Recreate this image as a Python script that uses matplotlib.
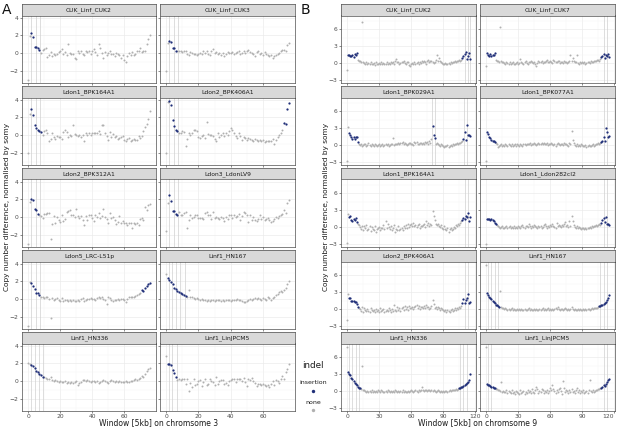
import numpy as np
import matplotlib
matplotlib.use("Agg")
import matplotlib.pyplot as plt

W, H = 617, 430

# ---------------- Panel A : chromosome 3 ----------------
A_names = ["CUK_Linf_CUK2", "CUK_Linf_CUK3", "Ldon1_BPK164A1", "Ldon2_BPK406A1",
           "Ldon2_BPK312A1", "Ldon3_LdonLV9", "Ldon5_LRC-L51p", "Linf1_HN167",
           "Linf1_HN336", "Linf1_LinJPCM5"]

A_CUK2 = [-3.0, 1.9, 2.3, 1.8, 0.75, 0.7, 0.55, 0.4, 0.0, 0.35,
          0.5, 0.6, -0.4, -0.2, 0.15, -0.3, -0.1, -0.15, -0.1, 0.1,
          0.3, 0.5, -0.1, 0.1, -0.2, 1.0, 0.0, -0.1, -0.05, -0.5,
          -0.7, 0.2, 0.0, 0.3, -0.1, -0.2, 0.3, 0.1, 0.2, -0.1,
          0.3, 0.5, 0.1, -0.2, 1.0, 0.6, 0.0, -0.5, 0.1, -0.2,
          0.0, 0.2, -0.1, -0.1, -0.3, 0.0, -0.1, -0.2, -0.5, -0.2,
          -0.8, -1.0, -0.3, 0.0, -0.2, 0.1, -0.2, -0.1, 0.2, 0.3,
          0.6, 0.1, 0.3, 0.2, 1.0, 1.6, 2.0]
A_CUK3 = [-2.0, 1.1, 1.4, 1.25, 0.6, 0.6, 0.3, 0.2, 0.3, 0.2,
          0.1, 0.2, 0.3, -0.1, -0.2, 0.1, 0.0, -0.1, -0.1, -0.2,
          -0.1, 0.0, -0.1, 0.2, 0.0, 0.3, -0.1, -0.2, 0.2, 0.5,
          0.0, 0.1, -0.1, 0.0, -0.2, 0.0, -0.3, -0.1, 0.1, 0.0,
          0.0, 0.1, -0.1, 0.0, 0.1, 0.2, -0.1, 0.0, 0.3, 0.0,
          0.3, 0.4, 0.1, 0.0, -0.1, -0.3, 0.1, 0.2, -0.1, 0.0,
          -0.2, 0.1, -0.1, -0.2, -0.3, -0.2, -0.5, -0.3, -0.2, -0.1,
          0.0, 0.2, 0.4, 0.4, 0.3, 0.9, 1.2]
A_BPK164 = [-2.0, 2.4, 2.9, 2.3, 1.1, 0.85, 0.6, 0.5, 0.35, 0.0,
            0.5, 0.6, 0.3, -0.6, -0.4, 0.3, -0.2, -0.4, -0.1, -0.2,
            -0.2, -0.4, 0.4, 0.6, 0.4, -0.2, 0.0, -0.1, 1.2, 0.1,
            0.0, -0.1, 0.0, -0.2, 0.0, -0.6, 0.2, 0.0, 0.3, 0.0,
            0.2, 0.3, 0.3, 0.2, 0.5, 0.1, 1.2, 1.1, 0.3, -0.1,
            -0.5, 0.4, -0.2, 0.1, -0.2, -0.1, -0.4, -0.3, -0.2, -0.1,
            -0.5, -0.6, -0.4, -0.3, -0.6, -0.5, -0.4, -0.5, -0.5, -0.1,
            -0.3, -0.1, 0.5, 0.9, 1.3, 1.8, 2.7]
A_BPK406 = [-2.0, 3.7, 3.9, 3.4, 1.7, 1.0, 0.55, 0.5, 0.3, 0.2,
            0.5, 0.4, -1.2, -0.4, 0.3, 0.0, 0.3, 0.6, 0.6, 0.5,
            -0.2, -0.3, -0.1, 0.0, -0.3, 1.5, 0.1, 0.0, 0.0, -0.1,
            -0.4, -0.7, 0.2, -0.2, 0.0, 0.3, -0.1, 0.2, 0.0, 0.5,
            0.8, 0.6, 0.2, -0.1, -0.3, 0.2, -0.1, -0.5, -0.2, -0.3,
            -0.5, -0.3, -0.4, -0.5, -0.6, -0.4, -0.5, -0.6, -0.5, -0.7,
            -0.5, -0.8, -0.6, -0.7, -0.6, -0.6, -0.4, -1.0, -0.5, -0.2,
            0.0, 0.2, 0.6, 1.4, 1.3, 2.9, 3.6]
A_BPK312 = [-3.0, 1.7, 2.0, 1.9, 0.9, 0.8, 0.4, 0.3, 0.1, -0.1,
            0.4, 0.4, 0.5, 0.5, -2.4, -0.8, 0.1, -0.6, 0.0, -0.3,
            -0.5, 0.2, -0.4, -0.2, 0.6, 0.7, 0.8, 0.2, 0.3, 0.0,
            0.9, 0.1, -0.1, 0.1, -0.3, -0.9, 0.1, -0.3, 0.2, 0.2,
            -0.1, -0.4, 0.3, 0.0, 0.5, -0.1, 0.1, 0.9, 0.0, -0.2,
            -0.6, 0.5, -0.1, 0.0, -0.3, -0.8, -0.5, 0.1, -0.6, -0.4,
            -0.7, -0.7, -0.9, -0.6, -0.7, -1.2, -0.7, -0.8, -0.7, -0.9,
            -0.2, -0.1, -0.3, 1.2, 0.8, 1.4, 1.5]
A_LV9 = [-1.5, 1.6, 2.5, 1.8, 0.75, 0.7, 0.35, 0.3, 0.6, 0.2,
         0.3, 0.5, 0.6, -1.2, -0.3, 0.3, -0.1, 0.0, 0.2, 0.2,
         -0.1, -0.1, -0.1, -0.2, 0.5, 0.6, 0.3, 0.2, -0.2, 0.6,
         -0.1, 0.0, -0.1, -0.2, 0.0, -0.1, -0.4, 0.0, -0.2, 0.2,
         0.3, -0.1, 0.2, 0.0, 0.1, 0.4, -0.3, 0.1, 0.6, 0.5,
         0.3, -0.5, 0.2, -0.3, 0.0, -0.3, -0.4, -0.2, 0.3, -0.2,
         0.0, -0.3, -0.2, -0.1, -0.3, -0.5, -0.4, -0.2, 0.0, -0.1,
         0.1, 0.3, 0.4, 0.8, 0.5, 1.6, 1.9]
A_L51p = [-3.0, 1.9, 1.8, 1.5, 1.2, 0.7, 0.7, 0.5, 0.3, 0.2,
          0.1, 0.2, 0.2, 0.0, -2.1, 0.1, -0.1, 0.0, 0.1, -0.1,
          -0.2, 0.1, -0.2, -0.1, -0.1, -0.2, -0.1, -0.2, -0.1, -0.2,
          -0.2, -0.1, -0.2, 0.0, 0.1, -0.2, -0.1, 0.0, 0.0, 0.1,
          0.0, 0.0, -0.1, 0.1, 0.2, 0.1, 0.3, 0.0, -0.1, -0.5,
          0.2, 0.1, -0.1, -0.2, -0.1, -0.1, 0.0, -0.1, 0.0, 0.0,
          -0.1, -0.3, 0.0, 0.2, 0.2, 0.3, 0.3, 0.4, 0.5, 0.6,
          0.7, 1.0, 0.9, 1.3, 1.5, 1.7, 1.8]
A_HN167 = [2.8, 2.4, 2.2, 1.9, 1.7, 1.3, 1.1, 0.9, 0.8, 0.7,
           0.6, 0.5, 0.4, 0.3, 1.0, 0.2, 0.2, 0.1, 0.0, 0.1,
           0.0, -0.1, 0.0, -0.1, -0.1, -0.2, -0.1, -0.2, -0.1, -0.1,
           -0.2, -0.1, -0.1, -0.1, -0.2, -0.1, -0.2, -0.1, -0.1, -0.1,
           -0.2, -0.1, -0.1, -0.1, 0.0, -0.1, -0.1, -0.2, -0.3, -0.3,
           -0.2, -0.1, 0.0, -0.1, 0.0, 0.1, 0.0, 0.1, 0.0, -0.1,
           0.1, 0.0, -0.1, 0.2, 0.1, -0.1, 0.1, 0.3, 0.5, 0.6,
           0.8, 0.9, 0.8, 1.0, 1.3, 1.7, 2.1]
A_HN336 = [2.1, 1.9, 1.8, 1.7, 1.5, 1.2, 1.0, 0.8, 0.7, 0.5,
           0.5, 0.4, 0.3, 0.2, 0.5, 0.1, 0.0, 0.1, 0.0, -0.1,
           0.0, -0.1, -0.1, 0.0, -0.2, -0.1, -0.2, -0.1, -0.2, -0.1,
           0.0, -0.4, -0.2, -0.1, 0.1, 0.1, 0.0, 0.1, 0.0, -0.1,
           0.0, 0.0, -0.1, 0.0, -0.2, -0.1, 0.0, 0.1, 0.0, -0.1,
           -0.2, 0.0, 0.1, 0.0, -0.1, 0.0, -0.1, 0.0, -0.1, -0.1,
           -0.1, 0.0, -0.1, -0.1, 0.0, 0.0, 0.1, 0.2, 0.1, 0.3,
           0.4, 0.6, 0.5, 0.8, 1.1, 1.4, 1.5]
A_JPCM5 = [2.8, 1.9, 1.9, 1.8, 1.3, 0.9, 0.5, 0.1, 0.2, 0.1,
           0.3, 0.2, -0.3, 0.3, -1.1, -0.2, -0.6, 0.2, -0.4, -0.3,
           0.0, 0.1, -0.5, -0.1, 0.2, -0.4, -0.3, 0.3, 0.0, -0.1,
           -0.4, 0.5, -0.3, 0.0, 0.1, 0.1, -0.3, -0.2, -0.4, 0.0,
           0.1, 0.2, 0.3, -0.1, 0.3, 0.3, 0.2, 0.0, 0.4, -0.1,
           -0.5, 0.3, 0.1, 0.4, 0.0, -0.2, -0.5, -0.3, -0.3, -0.4,
           -0.3, -0.4, -0.5, -0.4, -0.6, -0.3, 0.0, -0.4, 0.1, 0.0,
           -0.2, 0.3, 0.6, 0.3, 1.0, 1.4, 1.9]

A_values = [A_CUK2, A_CUK3, A_BPK164, A_BPK406, A_BPK312, A_LV9, A_L51p, A_HN167, A_HN336, A_JPCM5]
# indices of windows flagged as insertion
A_ins = [list(range(2, 8)), list(range(2, 7)), list(range(2, 9)), list(range(2, 8)) + list(range(73, 77)),
         list(range(2, 7)), list(range(2, 8)), list(range(2, 8)) + list(range(71, 77)), list(range(1, 13)),
         list(range(2, 10)), list(range(1, 7))]
A_vlines = [[2, 5, 7.5], [2, 5, 7.5], [2, 5, 7.5], [2, 5, 7.5], [2, 5, 7.5], [2, 5, 7.5],
            [2, 5, 7.5], [1.5, 3.5, 6, 8.5, 11.5], [2, 4.5, 7, 9.5], [1.5, 3.5, 6.5]]
A_xticks = [0, 20, 40, 60]
A_yticks = [-2, 0, 2, 4]

# ---------------- Panel B : chromosome 9 ----------------
B_names = ["CUK_Linf_CUK2", "CUK_Linf_CUK7", "Ldon1_BPK029A1", "Ldon1_BPK077A1",
           "Ldon1_BPK164A1", "Ldon1_Ldon282cl2", "Ldon2_BPK406A1", "Linf1_HN167",
           "Linf1_HN336", "Linf1_LinJPCM5"]

B_CUK2 = [-1.3, 1.4, 1.4, 1.2, 1.3, 1.5, 1.1, 1.6, 1.4, 1.7,
          0.6, 0.4, 0.3, 0.2, 7.3, 0.1, 0.0, -0.1, 0.1, -0.2,
          0.0, -0.1, 0.2, -0.2, -0.1, 0.0, -0.3, 0.1, -0.1, -0.2,
          0.0, -0.1, 0.1, -0.2, 0.0, -0.1, -0.2, 0.1, -0.1, 0.0,
          -0.2, 0.1, 0.0, 0.2, -0.1, 0.3, 0.7, 0.2, 0.1, -0.1,
          0.0, 0.2, 0.1, 0.3, 0.0, -0.1, 0.1, 0.2, -0.3, -0.5,
          -0.2, 0.0, -0.1, 0.1, -0.2, 0.0, 0.1, -0.1, 0.2, 0.0,
          0.3, 0.1, 0.4, 0.2, -0.2, 0.3, 0.5, 0.1, 0.3, 0.4,
          0.1, 0.0, 0.2, 0.6, 1.5, 0.4, 0.9, 0.3, 0.1, 0.0,
          -0.1, -0.2, 0.0, -0.1, -0.2, 0.0, -0.1, 0.1, 0.0, 0.2,
          0.1, 0.3, 0.2, 0.4, 0.3, 0.5, 0.4, 0.6, 0.9, 1.3,
          1.6, 1.9, 0.7, 1.2, 1.8, 0.8]
B_CUK7 = [-0.5, 1.7, 1.5, 1.3, 1.6, 1.2, 1.5, 1.4, 1.8, 0.5,
          0.4, 0.3, 0.2, 6.4, 0.3, 0.1, 0.2, 0.0, -0.1, 0.1,
          0.0, -0.2, 0.1, -0.1, 0.0, 0.2, -0.1, -0.2, 0.0, 0.1,
          -0.1, 0.0, 0.7, 0.2, 0.0, -0.1, 0.1, 0.3, 0.0, -0.2,
          0.1, 0.2, 0.4, 0.1, 0.0, 0.2, -0.1, -0.5, 0.0, 0.3,
          0.1, 0.2, 0.3, 0.0, 0.2, 0.1, 0.4, 0.6, 0.2, 0.1,
          0.3, 0.2, 0.0, 0.5, 0.3, 0.1, 0.2, 0.4, 0.3, 0.0,
          0.2, 0.1, 0.0, 0.3, 0.2, 0.1, 0.0, 0.2, 0.3, 1.5,
          0.4, 0.9, 0.3, 0.2, 0.1, 1.5, 0.0, -0.1, 0.1, 0.0,
          0.2, 0.0, 0.1, -0.1, 0.0, 0.1, 0.2, 0.0, 0.3, 0.2,
          0.1, 0.3, 0.4, 0.3, 0.5, 0.6, 0.4, 0.7, 1.1, 1.3,
          1.6, 0.9, 1.5, 1.2, 1.6, 1.0]
B_BPK029 = [-2.8, 3.2, 2.1, 1.8, 1.4, 1.0, 1.5, 1.0, 1.5, 1.4,
            0.5, 0.2, 0.0, 0.1, -0.1, 0.0, 0.2, 0.1, -0.1, 0.0,
            0.3, 0.0, -0.1, 0.1, 0.0, -0.2, 0.1, 0.0, -0.1, 0.0,
            0.1, -0.1, 0.0, 0.1, -0.1, 0.0, 0.2, 0.0, 0.1, -0.1,
            0.0, 0.1, 0.2, 1.2, 0.0, 0.1, 0.2, 0.1, 0.3, 0.2,
            0.4, 0.3, 0.5, 0.2, 0.3, 0.1, 0.0, 0.2, 0.4, 0.3,
            0.1, 0.2, 0.0, 0.6, 0.3, 0.5, 0.2, 0.1, 0.3, 0.4,
            0.2, 0.4, 0.1, 0.6, 0.3, 0.5, 0.2, 0.8, 0.4, 1.0,
            3.4, 1.8, 1.3, 0.2, 0.3, 0.1, 0.0, -0.1, 0.2, 0.0,
            -0.2, -0.3, -0.1, -0.2, 0.0, -0.3, -0.1, 0.0, -0.2, 0.1,
            0.0, 0.2, 0.1, 0.3, 0.2, 0.4, 0.3, 0.6, 0.7, 1.1,
            2.3, 0.9, 3.6, 1.7, 1.8, 1.6]
B_BPK077 = [-2.8, 2.3, 1.9, 1.5, 1.2, 0.9, 0.8, 0.7, 0.5, 0.3,
            0.1, -0.3, -0.1, 0.0, 0.2, -0.1, 0.0, -0.2, 0.1, 0.0,
            -0.1, 0.1, 0.0, -0.2, 0.1, -0.1, 0.0, 0.1, -0.1, 0.2,
            0.0, -0.1, 0.1, 0.0, -0.2, 0.1, 0.2, 0.0, 0.1, 0.2,
            0.1, 0.3, 0.0, 0.2, 0.1, 0.3, 0.2, 0.0, 0.1, 0.3,
            0.2, 0.1, 0.3, 0.2, 0.4, 0.1, 0.2, 0.3, 0.0, 0.2,
            0.1, 0.3, 0.2, 0.0, 0.1, -0.1, 0.2, 0.4, 0.1, 0.0,
            0.2, 0.1, 0.0, 0.3, 0.1, 0.2, 0.0, -0.1, 0.4, 0.1,
            2.5, 0.9, 0.3, 0.0, -0.1, 0.1, -0.2, 0.0, -0.1, 0.1,
            0.0, -0.2, -0.1, 0.0, -0.3, -0.1, 0.0, -0.2, -0.1, 0.0,
            0.1, -0.1, 0.0, 0.2, 0.1, 0.3, 0.2, 0.4, 0.6, 0.7,
            1.5, 0.8, 3.1, 2.3, 1.5, 1.6]
B_BPK164 = [-2.8, 2.4, 1.8, 2.0, 1.3, 1.0, 1.5, 1.2, 1.6, 0.9,
            0.5, 0.3, 0.0, -0.3, 0.2, -0.5, 0.1, -0.2, 0.3, -0.6,
            -0.4, 0.2, -0.7, 0.0, -0.3, -0.6, 0.1, -0.9, -0.4, -0.2,
            0.0, -0.5, -0.2, -0.1, 0.3, -0.4, 1.1, -0.2, 0.5, 0.0,
            -0.3, 0.2, -0.6, -0.2, 0.4, -0.9, -0.3, -0.5, 0.1, -0.6,
            -0.4, -0.2, -0.5, 0.1, -0.1, 0.3, -0.2, 0.6, 0.0, 0.3,
            0.5, 0.2, 0.7, 0.1, 0.4, 0.0, 0.3, 0.5, -0.2, 0.2,
            0.1, 0.4, 0.6, 0.0, 1.0, 0.3, 0.7, 0.2, 0.5, 0.4,
            2.9, 1.9, 1.2, 0.6, 0.3, 0.5, 0.2, 0.0, 0.3, -0.1,
            -0.3, 0.1, -0.4, -0.6, -0.2, -0.8, -0.4, -0.1, -0.5, -0.3,
            0.0, -0.2, 0.3, 0.1, 0.5, 0.4, 0.7, 1.0, 1.3, 1.6,
            1.4, 2.0, 1.7, 2.5, 1.1, 1.8]
B_282cl2 = [-3.0, 1.4, 1.5, 1.5, 1.3, 1.4, 1.2, 1.1, 0.8, 0.5,
            0.3, 0.1, 0.0, -0.1, 0.0, 0.1, -0.1, -0.2, 0.0, 0.1,
            -0.1, 0.0, 0.2, -0.1, 0.0, -0.2, 0.1, -0.1, 0.0, -0.1,
            0.1, 0.0, -0.2, 0.1, 0.3, 0.0, -0.1, 0.2, 0.1, 0.0,
            0.5, 0.1, -0.1, 0.2, 0.0, 0.3, 0.1, 0.0, -0.1, 0.2,
            0.0, 0.1, -0.2, 0.0, 0.3, 0.6, 0.1, -0.1, 0.2, 0.0,
            0.3, 0.1, 0.6, 0.2, 0.0, -0.1, 0.7, 0.2, 0.4, 0.1,
            0.0, 0.3, 0.1, 0.5, 0.9, 0.2, 0.4, 0.0, 1.0, 0.1,
            2.0, 1.0, 0.3, 0.0, -0.1, 0.1, -0.2, 0.0, -0.1, -0.3,
            -0.2, -0.1, -0.3, -0.2, -0.4, -0.2, -0.1, 0.0, -0.2, 0.1,
            0.0, 0.2, 0.1, 0.3, 0.2, 0.4, 0.5, 0.4, 0.7, 1.2,
            1.6, 0.9, 1.7, 0.6, 0.5, 0.3]
B_BPK406 = [-2.0, 2.7, 2.0, 1.9, 1.4, 1.5, 1.4, 1.2, 1.3, 0.9,
            0.4, 0.2, 0.0, -0.3, 0.3, -0.5, 0.1, -0.2, -0.4, 0.0,
            -0.3, -0.6, 0.1, -0.2, -0.4, -0.1, -0.5, 0.0, -0.3, -0.2,
            -0.6, 0.1, -0.4, -0.2, 0.0, -0.5, -0.3, -0.1, -0.4, 0.2,
            -0.2, -0.5, 0.0, -0.3, 0.7, -0.1, -0.4, 0.3, -0.2, 0.1,
            -0.3, 0.2, 0.4, -0.1, 0.6, 0.0, 0.3, -0.2, 0.5, 0.1,
            0.2, 0.4, 0.0, 0.3, 0.6, 0.8, 0.2, 0.5, 0.0, 0.3,
            0.4, 0.1, 0.6, 0.2, 0.7, 0.3, 0.4, 0.0, 0.2, 0.5,
            1.6, 0.9, 0.2, 0.4, 0.0, 0.3, 0.1, -0.2, 0.2, 0.0,
            -0.1, -0.4, -0.2, -0.5, -0.1, -0.3, -0.6, -0.2, 0.0, -0.4,
            -0.1, 0.1, -0.2, 0.2, 0.0, 0.3, 0.2, 0.5, 1.0, 1.7,
            1.1, 1.6, 2.0, 2.6, 1.0, 1.2]
B_HN167 = [7.9, 2.9, 2.5, 2.1, 1.9, 1.7, 1.4, 1.2, 1.0, 0.8,
           0.7, 0.5, 0.4, 3.2, 0.3, 0.2, 0.1, 0.0, 0.1, 0.0,
           -0.1, 0.0, -0.1, 0.0, 0.1, -0.1, 0.0, -0.1, -0.2, 0.0,
           -0.1, 0.0, -0.1, 0.0, -0.2, -0.1, 0.0, -0.1, -0.1, 0.0,
           0.1, -0.1, 0.0, -0.1, -0.2, 0.0, -0.1, 0.0, -0.1, -0.1,
           0.0, -0.1, 0.0, 0.1, -0.1, 0.0, -0.1, 0.0, 0.1, -0.1,
           0.0, -0.1, 0.0, -0.1, 0.0, 0.1, 0.0, 0.3, 0.0, -0.1,
           0.0, 0.0, -0.1, 0.0, 0.1, 0.0, -0.1, 0.0, -0.1, 0.0,
           0.4, 0.0, -0.1, 0.0, -0.1, -0.1, 0.0, -0.1, 0.0, -0.1,
           -0.1, 0.0, -0.1, 0.0, -0.1, 0.0, 0.0, -0.1, 0.0, 0.1,
           0.0, 0.1, 0.2, 0.1, 0.2, 0.3, 0.5, 0.6, 0.7, 0.8,
           0.9, 1.1, 1.3, 1.6, 2.0, 2.5]
B_HN336 = [7.9, 3.4, 3.1, 2.8, 2.4, 2.1, 1.8, 1.5, 1.3, 1.0,
           0.8, 0.6, 0.5, 0.3, 4.5, 0.2, 0.1, 0.0, -0.1, 0.0,
           -0.1, 0.0, -0.1, 0.1, -0.1, 0.0, -0.2, 0.0, -0.1, 0.1,
           0.0, -0.1, 0.1, 0.0, -0.2, -0.1, 0.0, -0.1, 0.1, 0.0,
           -0.1, 0.0, -0.2, 0.0, -0.1, 0.1, 0.0, -0.1, 0.0, -0.2,
           0.0, -0.1, 0.1, -0.1, 0.0, -0.1, -0.2, 0.0, -0.1, 0.0,
           0.1, 0.0, -0.1, 0.0, 0.1, 0.0, -0.1, 0.1, 0.0, 0.2,
           0.8, 0.1, 0.0, 0.2, 0.1, 0.0, 0.1, 0.2, 0.0, 0.1,
           0.0, 0.1, 0.0, -0.1, 0.0, 0.1, 0.0, -0.1, 0.0, -0.1,
           0.0, -0.1, 0.0, 0.0, -0.1, 0.0, 0.1, 0.0, 0.1, 0.2,
           0.1, 0.2, 0.3, 0.2, 0.4, 0.5, 0.6, 0.7, 0.8, 0.9,
           1.0, 1.2, 1.4, 1.6, 1.9, 3.0]
B_JPCM5 = [7.9, 1.2, 1.1, 1.0, 0.9, 0.8, 0.7, 0.6, 0.5, 0.4,
           0.3, 0.2, 0.1, 0.0, 1.6, -0.1, 0.0, -0.2, -0.1, 0.1,
           -0.3, 0.0, -0.2, -0.4, 0.1, -0.3, -0.1, -0.5, 0.0, -0.2,
           -0.4, -0.6, 0.1, -0.3, -0.2, 0.0, -0.5, -0.1, -0.3, 0.2,
           -0.2, 0.0, -0.4, 0.3, -0.1, -0.3, 0.1, 0.8, 0.3, -0.4,
           0.0, -0.2, 0.4, 0.1, -0.3, 0.0, -0.1, 0.2, -0.4, 0.0,
           0.5, 0.1, 1.1, 0.3, 0.0, -0.3, 0.2, -0.1, 0.4, 0.6,
           0.0, -0.6, 1.8, 0.5, -0.2, 0.2, 0.0, -0.3, 0.1, -0.1,
           0.3, -0.2, 0.0, -0.4, 0.2, 0.5, -0.1, 0.1, -0.3, 0.0,
           -0.2, 0.1, -0.4, -0.1, 0.0, -0.3, 0.2, 1.9, 0.0, -0.1,
           0.1, -0.2, 0.0, 0.2, 0.1, 0.3, 0.4, 0.6, 0.5, 0.8,
           1.0, 0.9, 1.3, 1.6, 1.9, 2.2]

B_values = [B_CUK2, B_CUK7, B_BPK029, B_BPK077, B_BPK164, B_282cl2, B_BPK406, B_HN167, B_HN336, B_JPCM5]
B_ins = [list(range(1, 10)) + list(range(108, 116)), list(range(1, 9)) + list(range(108, 116)),
         list(range(2, 11)) + list(range(80, 83)) + list(range(109, 116)),
         list(range(1, 9)) + list(range(108, 116)), list(range(2, 10)) + list(range(108, 116)),
         list(range(1, 10)) + list(range(108, 116)), list(range(2, 11)) + list(range(108, 116)),
         list(range(1, 13)) + list(range(106, 116)), list(range(1, 13)) + list(range(105, 116)),
         list(range(1, 9)) + list(range(108, 116))]
B_vlines = [[110, 113, 115], [110, 113], [79.5, 82.5, 109.5, 112.5], [110, 113], [110, 113],
            [110, 113], [110, 113], [2, 5, 8, 11, 107, 110, 113], [2, 5, 8, 11, 106, 109, 112],
            [2, 5, 110, 113]]
B_xticks = [0, 30, 60, 90, 120]
B_yticks = [-3, 0, 3, 6]

INS_COL = "#1f2e78"
NONE_COL = "#b0b0b0"
GRID = "#ebebeb"
BORDER = "#4d4d4d"

fig = plt.figure(figsize=(W / 100, H / 100), dpi=100)
fig.patch.set_facecolor("white")


def px_axes(x0, ytop, x1, ybot):
    return fig.add_axes([x0 / W, 1 - ybot / H, (x1 - x0) / W, (ybot - ytop) / H])


def draw_block(names, values, ins, vlines, xticks, yticks, col_x, ylabel, xlabel, ylab_x, last_right=False):
    allv = np.concatenate([np.asarray(v) for v in values])
    lo, hi = allv.min(), allv.max()
    pad = 0.05 * (hi - lo)
    ylim = (lo - pad, hi + pad)
    n = max(len(v) for v in values) - 1
    xlim = (-0.05 * n, n * 1.05)
    xt = np.asarray(xticks, float)
    yt = np.asarray(yticks, float)
    xminor = (xt[:-1] + xt[1:]) / 2
    yminor = np.concatenate([[yt[0] - (yt[1] - yt[0]) / 2], (yt[:-1] + yt[1:]) / 2,
                             [yt[-1] + (yt[1] - yt[0]) / 2]])
    for i, (name, vals, ii, vl) in enumerate(zip(names, values, ins, vlines)):
        r, c = divmod(i, 2)
        top = 4 + 82 * r
        x0, x1 = col_x[c]
        sax = px_axes(x0, top, x1, top + 11.5)
        sax.set_facecolor("#d9d9d9")
        sax.set_xticks([]); sax.set_yticks([])
        for s in sax.spines.values():
            s.set_color(BORDER); s.set_linewidth(0.5)
        sax.text(0.5, 0.5, name, ha="center", va="center", fontsize=4.3, color="#1a1a1a",
                 transform=sax.transAxes)
        ax = px_axes(x0, top + 11.5, x1, top + 79)
        ax.set_xlim(*xlim); ax.set_ylim(*ylim)
        ax.set_xticks(xt); ax.set_yticks(yt)
        ax.set_xticks(xminor, minor=True)
        ax.set_yticks(yminor[(yminor > ylim[0]) & (yminor < ylim[1])], minor=True)
        ax.grid(True, which="major", color=GRID, lw=0.5, zorder=0)
        ax.grid(True, which="minor", color="#f3f3f3", lw=0.3, zorder=0)
        ax.set_axisbelow(True)
        for s in ax.spines.values():
            s.set_color(BORDER); s.set_linewidth(0.5)
        ax.tick_params(which="both", length=0)
        ax.tick_params(which="major", length=1.5, width=0.4, color="#333333",
                       labelsize=4.3, labelcolor="#4d4d4d", pad=1)
        if c != 0:
            ax.tick_params(labelleft=False)
        if r != 4:
            ax.tick_params(labelbottom=False)
        elif last_right and c == 1:
            labs = ax.get_xticklabels()
            labs[-1].set_horizontalalignment("right")
        for v in vl:
            ax.axvline(v, color="#d0d0d0", lw=0.5, zorder=1)
        vals = np.asarray(vals)
        x = np.arange(len(vals))
        mask = np.zeros(len(vals), bool)
        mask[[k for k in ii if k < len(vals)]] = True
        ax.scatter(x[~mask], vals[~mask], s=2.0, color=NONE_COL, linewidths=0, zorder=2)
        ax.scatter(x[mask], vals[mask], s=2.6, color=INS_COL, linewidths=0, zorder=3)
    fig.text(ylab_x / W, 1 - 207 / H, ylabel, rotation=90, ha="center", va="center",
             fontsize=5.3, color="#1a1a1a")
    fig.text((col_x[0][0] + col_x[1][1]) / 2 / W, 1 - 423 / H, xlabel, ha="center",
             va="center", fontsize=5.5, color="#1a1a1a")


draw_block(A_names, A_values, A_ins, A_vlines, A_xticks, A_yticks,
           [(22, 156), (160, 295)], "Copy number difference, normalised by somy",
           "Window [5kb] on chromsome 3", 7)
draw_block(B_names, B_values, B_ins, B_vlines, B_xticks, B_yticks,
           [(341, 476), (480, 615)], "Copy number difference, normalised by somy",
           "Window [5kb] on chromsome 9", 326, last_right=True)

fig.text(2 / W, 1 - 10 / H, "A", fontsize=10, ha="left", va="center", color="#111111")
fig.text(301 / W, 1 - 10 / H, "B", fontsize=10, ha="left", va="center", color="#111111")

# legend
fig.text(313 / W, 1 - 366 / H, "indel", fontsize=6.3, ha="center", va="center", color="#1a1a1a")
fig.text(313 / W, 1 - 383 / H, "insertion", fontsize=4.5, ha="center", va="center", color="#1a1a1a")
fig.text(313 / W, 1 - 402 / H, "none", fontsize=4.5, ha="center", va="center", color="#1a1a1a")
lax = fig.add_axes([0, 0, 1, 1], facecolor="none")
lax.set_xlim(0, W); lax.set_ylim(H, 0); lax.axis("off")
lax.scatter([313], [390.5], s=6, color=INS_COL, linewidths=0)
lax.scatter([313], [410], s=6, color=NONE_COL, linewidths=0)

fig.savefig("out.png", dpi=100, facecolor="white")
